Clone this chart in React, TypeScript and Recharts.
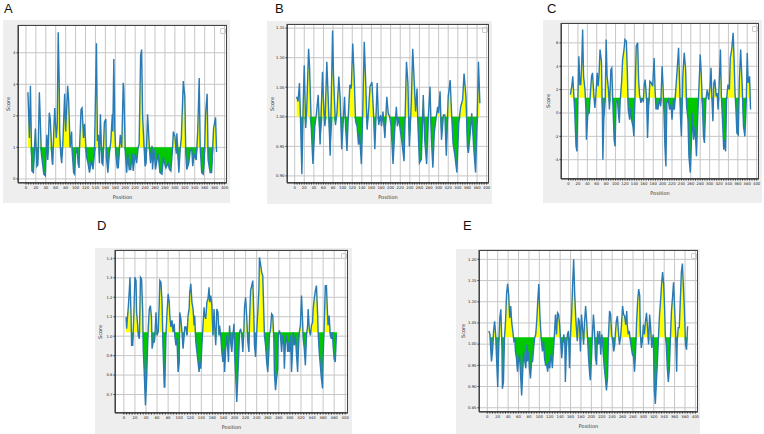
import { ComposedChart, Area, Line, XAxis, YAxis, CartesianGrid } from 'recharts'

type Pt = [number, number]

const FONT = '"DejaVu Sans", sans-serif'
const YELLOW = '#ffff00'
const GREEN = '#00c800'
const BLUE = '#2a7ab5'

const X_DOMAIN: [number, number] = [-16, 405]
const xMajorTicks = [0, 20, 40, 60, 80, 100, 120, 140, 160, 180, 200, 220, 240, 260, 280, 300, 320, 340, 360, 380, 400]
const xMinorTicks = Array.from({ length: 81 }, (_, i) => i * 5)

const yTicksA = [0, 1, 2, 3, 4]
const yTicksB = [0.9, 0.95, 1.0, 1.05, 1.1, 1.15]
const yTicksC = [-4, -2, 0, 2, 4, 6]
const yTicksD = [0.7, 0.8, 0.9, 1.0, 1.1, 1.2, 1.3, 1.4]
const yTicksE = [0.85, 0.9, 0.95, 1.0, 1.05, 1.1, 1.15, 1.2]

// [position, score]
const scoreA: Pt[] = [
    [4, 2.75], [7, 1.3], [9, 2.95], [12, 0.25], [15, 0.2], [19, 1.6], [22, 0.4], [24, 0.45], [27, 2.75], [28, 2.3],
    [31, 0.8], [36, 0.15], [39, 0.1], [42, 1.4], [44, 0.6], [47, 2.1], [49, 1.9], [53, 0.5], [54, 0.45], [56, 1.5],
    [58, 2.25], [61, 1.3], [63, 1.7], [65, 4.65], [67, 3.1], [68, 1.5], [70, 0.8], [72, 0.5], [74, 1.0], [78, 2.7],
    [80, 1.5], [84, 2.95], [86, 2.5], [89, 1.0], [92, 1.5], [93, 0.9], [96, 0.2], [98, 0.15], [100, 0.8], [103, 1.0],
    [105, 0.5], [107, 0.35], [108, 1.0], [111, 2.2], [113, 2.25], [116, 1.3], [118, 1.75], [122, 0.7], [125, 0.5], [128, 0.2],
    [132, 0.6], [135, 0.3], [138, 0.8], [142, 4.3], [144, 1.2], [146, 1.4], [148, 0.5], [150, 2.05], [153, 0.5], [155, 0.45],
    [158, 1.8], [161, 1.9], [162, 0.7], [165, 0.2], [168, 0.8], [171, 1.2], [174, 2.05], [175, 1.5], [177, 3.8], [179, 1.6],
    [181, 0.8], [184, 0.35], [186, 0.35], [190, 1.4], [193, 1.0], [196, 3.05], [197, 2.9], [200, 0.9], [203, 0.2], [205, 0.8],
    [208, 0.3], [211, 0.3], [214, 0.8], [216, 0.25], [220, 0.8], [223, 0.5], [226, 1.0], [228, 1.1], [231, 3.9], [233, 4.1],
    [235, 2.0], [238, 1.0], [240, 0.4], [242, 0.5], [245, 2.05], [249, 0.9], [251, 0.5], [254, 1.05], [255, 0.3], [258, 0.95],
    [261, 0.3], [264, 0.6], [266, 0.8], [270, 0.2], [274, 0.15], [277, 0.7], [279, 0.5], [282, 0.35], [286, 0.5], [289, 0.3],
    [292, 0.25], [295, 0.9], [297, 1.5], [300, 1.35], [303, 0.8], [304, 1.45], [308, 0.2], [311, 1.0], [313, 1.3], [317, 3.1],
    [320, 2.6], [322, 0.8], [324, 0.3], [328, 0.5], [331, 0.9], [334, 0.95], [336, 0.4], [339, 0.8], [343, 0.6], [346, 1.5],
    [349, 3.2], [351, 1.0], [354, 0.2], [357, 0.15], [359, 0.5], [362, 2.1], [365, 2.7], [367, 0.6], [371, 0.2], [374, 0.2],
    [378, 1.6], [382, 1.95], [384, 0.85],
]

const scoreB: Pt[] = [
    [4, 1.034], [7, 1.026], [10, 1.057], [12, 1.0], [15, 0.903], [18, 1.03], [20, 1.087], [23, 0.981], [25, 1.012], [29, 1.115],
    [31, 1.085], [35, 0.973], [38, 0.92], [42, 0.984], [45, 1.003], [49, 1.037], [53, 0.953], [58, 1.076], [61, 1.006], [63, 0.984],
    [67, 1.093], [70, 1.029], [74, 0.934], [79, 1.146], [81, 1.068], [85, 0.986], [88, 1.006], [92, 1.068], [95, 1.029], [98, 0.945],
    [101, 0.99], [104, 1.034], [106, 0.984], [109, 0.942], [112, 1.006], [115, 1.054], [118, 1.048], [121, 1.124], [124, 1.068], [127, 0.992],
    [130, 0.984], [133, 0.953], [135, 0.973], [139, 0.92], [142, 1.012], [145, 1.127], [148, 1.059], [151, 0.978], [154, 1.012], [157, 1.051],
    [161, 1.059], [164, 1.012], [167, 0.945], [170, 1.012], [172, 1.057], [175, 0.986], [179, 1.003], [181, 0.984], [184, 1.009], [188, 0.964],
    [192, 1.034], [195, 1.006], [198, 1.0], [201, 0.984], [205, 0.92], [209, 0.984], [212, 1.017], [214, 0.984], [217, 0.998], [220, 0.978],
    [223, 0.961], [228, 0.925], [230, 0.995], [233, 1.093], [236, 1.057], [239, 0.95], [243, 1.023], [246, 1.115], [249, 1.062], [252, 1.009],
    [255, 1.048], [257, 0.984], [260, 0.922], [264, 0.928], [268, 1.037], [271, 0.961], [275, 0.92], [279, 1.006], [282, 1.051], [285, 0.961],
    [288, 0.914], [291, 0.973], [295, 1.0], [298, 1.017], [300, 1.006], [303, 1.043], [306, 0.961], [310, 1.003], [313, 1.003], [316, 0.934],
    [320, 1.034], [324, 1.062], [327, 1.006], [330, 0.956], [334, 0.934], [338, 0.906], [342, 0.99], [346, 1.017], [350, 1.029], [353, 1.073],
    [357, 1.034], [360, 0.95], [362, 0.939], [366, 0.973], [369, 1.006], [373, 0.95], [377, 0.906], [380, 0.984], [383, 1.093], [386, 1.023],
]

const scoreC: Pt[] = [
    [4, 1.57], [7, 2.29], [9, 3.14], [11, 1.71], [13, 0.29], [16, -2.86], [18, -3.29], [20, 1.43], [22, 4.86], [24, 2.43],
    [26, 2.43], [28, 4.14], [30, 7.15], [32, 3.14], [35, 2.0], [37, 0.29], [38, -2.29], [41, -0.14], [44, 0.0], [46, 1.43],
    [49, 3.14], [51, 3.43], [54, 1.43], [56, 0.43], [58, 1.43], [61, 3.43], [63, 2.29], [65, 3.43], [67, 5.43], [70, 4.43],
    [72, -0.29], [73, -4.0], [75, -0.57], [78, 1.14], [80, 6.29], [82, 3.14], [85, 2.0], [87, 0.29], [90, 3.71], [92, 3.86],
    [94, 1.14], [97, -2.29], [99, -2.86], [101, 0.86], [104, 1.14], [106, 0.0], [108, -0.86], [110, 1.14], [113, 2.71], [115, 4.57],
    [118, 5.43], [120, 6.29], [123, 6.14], [125, 3.57], [127, 0.29], [130, -0.57], [132, 0.43], [134, -0.57], [137, -1.14], [139, -2.0],
    [142, 2.57], [144, 5.71], [147, 6.0], [149, 2.86], [151, 1.57], [154, 0.86], [156, 1.14], [159, 1.0], [161, 2.43], [163, 2.86],
    [166, 1.14], [168, -2.14], [170, 0.29], [173, 2.71], [176, 2.57], [179, 2.29], [182, 4.71], [184, 2.0], [186, 0.29], [188, 0.71],
    [190, 0.29], [193, 1.14], [196, 0.57], [199, 4.0], [201, 2.29], [203, 0.0], [205, -2.86], [207, -4.57], [209, 0.86], [212, 1.14],
    [215, 0.29], [218, 0.71], [220, -0.57], [223, 1.14], [225, 0.29], [228, 2.0], [231, 3.71], [234, 5.57], [236, 2.86], [238, -0.29],
    [240, -2.0], [243, 3.14], [246, 5.14], [249, 3.71], [251, 0.57], [254, -0.57], [256, -3.71], [259, -5.1], [261, -2.86], [263, 0.0],
    [266, -2.29], [269, -1.14], [272, -3.71], [275, 0.0], [278, 2.86], [280, 5.0], [282, 3.57], [285, 0.29], [287, -2.0], [289, -2.57],
    [292, 1.14], [295, 2.0], [298, 1.14], [301, 2.29], [303, 3.86], [305, 1.14], [307, -0.71], [309, 2.57], [311, 2.86], [314, 1.43],
    [316, 1.71], [318, 0.29], [321, 3.14], [323, 5.43], [325, 1.43], [328, -1.14], [330, -3.14], [332, -2.29], [334, -3.29], [336, 1.14],
    [339, 2.43], [342, 2.0], [344, 4.71], [347, 5.43], [350, 6.86], [352, 4.57], [354, 1.71], [356, 0.29], [358, -1.71], [361, -1.86],
    [363, 2.57], [366, 5.43], [369, 2.57], [372, -1.14], [375, -2.0], [378, 1.14], [380, 5.14], [382, 2.57], [385, 3.14], [387, 0.29],
]

const scoreD: Pt[] = [
    [4, 1.098], [5, 1.038], [8, 1.149], [10, 1.243], [11, 1.303], [13, 1.106], [14, 0.953], [16, 0.953], [18, 1.106], [20, 1.303],
    [22, 1.286], [23, 1.123], [25, 1.055], [26, 1.004], [28, 0.987], [30, 1.303], [32, 1.294], [34, 1.132], [35, 0.936], [37, 0.799],
    [39, 0.645], [41, 0.765], [43, 0.953], [44, 1.038], [46, 1.14], [48, 1.157], [50, 1.089], [51, 0.936], [53, 0.97], [55, 0.97],
    [56, 0.995], [58, 1.123], [60, 1.004], [62, 1.021], [64, 1.175], [65, 1.286], [67, 1.277], [69, 1.175], [71, 0.919], [73, 0.739],
    [74, 0.739], [76, 1.004], [78, 1.123], [80, 1.217], [82, 1.175], [83, 1.106], [85, 1.047], [87, 1.081], [89, 1.021], [91, 1.064],
    [92, 1.004], [94, 0.953], [96, 0.987], [98, 0.816], [100, 0.867], [101, 1.123], [103, 1.089], [105, 1.021], [107, 0.936], [109, 1.004],
    [110, 1.047], [112, 1.047], [114, 1.004], [116, 1.106], [118, 1.14], [119, 1.226], [121, 1.269], [123, 1.175], [125, 1.14], [127, 1.055],
    [128, 1.106], [130, 0.97], [132, 0.919], [134, 0.867], [136, 0.816], [137, 0.867], [139, 0.833], [141, 0.953], [143, 1.055], [145, 1.149],
    [146, 1.106], [148, 1.089], [150, 1.175], [152, 1.192], [154, 1.251], [155, 1.175], [157, 1.209], [159, 1.157], [161, 1.004], [163, 1.14],
    [164, 1.055], [166, 0.953], [168, 1.14], [170, 1.123], [172, 1.004], [173, 1.055], [175, 1.004], [177, 0.919], [179, 0.867], [181, 0.936],
    [182, 0.816], [184, 0.936], [186, 1.004], [188, 0.919], [189, 0.867], [191, 1.055], [193, 0.97], [195, 0.919], [197, 1.004], [199, 1.064],
    [200, 0.919], [202, 0.799], [204, 0.662], [206, 0.799], [208, 0.936], [209, 1.021], [211, 1.038], [213, 1.004], [215, 0.919], [217, 1.038],
    [218, 1.149], [220, 1.2], [222, 1.098], [224, 0.97], [226, 0.919], [227, 1.072], [229, 1.234], [231, 1.26], [233, 1.286], [235, 1.089],
    [236, 0.953], [238, 0.893], [240, 1.021], [242, 1.123], [244, 1.243], [245, 1.405], [247, 1.371], [249, 1.328], [251, 1.311], [253, 1.106],
    [254, 1.004], [256, 0.953], [258, 0.867], [260, 0.816], [262, 0.919], [263, 1.004], [265, 1.038], [267, 1.115], [269, 1.106], [271, 0.987],
    [272, 0.816], [274, 0.722], [276, 0.782], [278, 0.833], [279, 1.004], [281, 1.03], [283, 1.004], [285, 0.919], [287, 1.004], [289, 0.953],
    [290, 0.833], [292, 0.97], [294, 1.004], [296, 0.919], [297, 0.97], [299, 0.919], [301, 1.004], [303, 0.816], [305, 0.936], [306, 1.021],
    [308, 0.953], [310, 1.004], [312, 0.902], [314, 0.816], [315, 0.902], [317, 1.021], [319, 1.055], [321, 1.209], [323, 1.072], [324, 0.987],
    [326, 0.936], [328, 0.85], [330, 1.004], [332, 1.055], [333, 1.14], [335, 1.038], [337, 1.004], [339, 1.055], [341, 1.072], [342, 1.14],
    [344, 1.192], [346, 1.234], [348, 1.26], [350, 1.123], [351, 1.021], [353, 0.919], [355, 0.85], [357, 0.782], [359, 0.731], [360, 0.884],
    [362, 1.055], [364, 1.26], [366, 1.26], [368, 1.115], [369, 1.055], [371, 1.106], [373, 1.004], [375, 0.987], [377, 1.021], [378, 0.953],
    [380, 0.884], [382, 0.867], [384, 1.004], [385, 1.004],
]

const scoreE: Pt[] = [
    [3, 1.031], [5, 1.023], [6, 0.999], [8, 0.959], [10, 0.983], [12, 1.031], [14, 1.054], [16, 1.023], [18, 0.959], [20, 0.899],
    [22, 0.999], [24, 1.062], [26, 1.082], [28, 0.999], [29, 0.895], [31, 0.911], [33, 1.015], [35, 1.054], [37, 1.118], [39, 1.142],
    [41, 1.118], [43, 1.062], [45, 1.09], [47, 1.05], [49, 1.031], [51, 1.007], [53, 1.011], [54, 0.983], [56, 0.967], [58, 0.935],
    [60, 0.959], [62, 0.975], [64, 0.927], [66, 0.879], [68, 0.935], [70, 0.983], [72, 0.959], [74, 0.943], [76, 0.999], [77, 0.959],
    [79, 0.983], [81, 0.943], [83, 0.919], [85, 0.959], [87, 0.959], [89, 0.991], [91, 1.015], [93, 1.023], [95, 1.054], [97, 1.102],
    [99, 1.142], [101, 1.07], [102, 1.046], [104, 1.007], [106, 0.983], [108, 1.007], [110, 0.967], [112, 0.951], [114, 0.951], [116, 0.935],
    [118, 0.959], [120, 0.943], [122, 0.975], [124, 0.959], [125, 0.943], [127, 0.983], [129, 1.023], [131, 1.07], [133, 1.023], [135, 1.074],
    [137, 1.07], [139, 1.046], [141, 1.007], [143, 0.967], [145, 0.999], [147, 1.023], [149, 0.999], [150, 0.911], [152, 0.991], [154, 1.023],
    [156, 1.031], [158, 0.943], [160, 1.023], [162, 1.07], [164, 1.142], [166, 1.2], [168, 1.118], [170, 1.062], [172, 1.023], [173, 1.007],
    [175, 1.062], [177, 1.054], [179, 0.983], [181, 1.07], [183, 1.039], [185, 0.999], [187, 1.054], [189, 1.09], [191, 1.054], [193, 1.007],
    [195, 0.959], [197, 0.927], [198, 0.915], [200, 0.959], [202, 1.023], [204, 1.07], [206, 1.031], [208, 0.967], [210, 0.951], [212, 1.031],
    [214, 0.999], [216, 1.031], [218, 0.975], [220, 1.023], [221, 1.015], [223, 0.975], [225, 0.943], [227, 0.919], [229, 0.891], [231, 0.919],
    [233, 1.023], [235, 1.078], [237, 1.07], [239, 1.023], [241, 1.007], [243, 0.983], [245, 0.999], [246, 1.023], [248, 1.054], [250, 1.066],
    [252, 1.031], [254, 0.999], [256, 1.015], [258, 1.046], [260, 1.09], [262, 1.07], [264, 1.066], [266, 1.046], [268, 1.078], [269, 1.046],
    [271, 1.023], [273, 1.031], [275, 1.007], [277, 0.991], [279, 0.975], [281, 0.971], [283, 0.935], [285, 0.983], [287, 1.054], [289, 1.102],
    [291, 1.13], [293, 1.114], [294, 1.031], [296, 0.991], [298, 1.007], [300, 1.046], [302, 1.023], [304, 1.054], [306, 1.074], [308, 1.039],
    [310, 0.999], [312, 1.07], [314, 1.039], [316, 0.991], [317, 1.003], [319, 1.023], [321, 0.895], [323, 0.859], [325, 0.911], [327, 0.959],
    [329, 1.015], [331, 1.07], [333, 1.102], [335, 1.142], [337, 1.17], [339, 1.142], [341, 1.078], [342, 1.023], [344, 0.999], [346, 0.943],
    [348, 0.911], [350, 0.943], [352, 1.015], [354, 1.078], [356, 1.11], [358, 1.146], [360, 1.086], [362, 1.023], [364, 0.935], [365, 1.007],
    [367, 1.039], [369, 1.039], [371, 1.102], [373, 1.17], [375, 1.19], [377, 1.134], [379, 1.078], [381, 0.999], [383, 0.987], [385, 1.042],
]

interface PanelConfig {
    title: string
    titleX: number
    titleY: number
    data: Pt[]
    threshold: number
    yDomain: [number, number]
    yTicks: number[]
    yFmt: (v: number) => string
    box: { x: number, y: number, w: number, h: number }
    plot: { l: number, t: number, r: number, b: number }
    scoreDx: number
}

const panels: PanelConfig[] = [
    {
        title: 'A', titleX: 4, titleY: 2, data: scoreA, threshold: 1.0,
        yDomain: [-0.13, 4.88], yTicks: yTicksA, yFmt: v => String(v),
        box: { x: 3, y: 20, w: 227, h: 183 }, plot: { l: 18, t: 25, r: 227, b: 183 }, scoreDx: -10
    },
    {
        title: 'B', titleX: 275, titleY: 2, data: scoreB, threshold: 1.0,
        yDomain: [0.888, 1.157], yTicks: yTicksB, yFmt: v => v.toFixed(2),
        box: { x: 267, y: 21, w: 225, h: 183 }, plot: { l: 287, t: 24, r: 489, b: 183 }, scoreDx: -15
    },
    {
        title: 'C', titleX: 547, titleY: 2, data: scoreC, threshold: 1.3,
        yDomain: [-5.65, 7.7], yTicks: yTicksC, yFmt: v => String(v),
        box: { x: 543, y: 20, w: 219, h: 183 }, plot: { l: 561, t: 23, r: 759, b: 179 }, scoreDx: -13.5
    },
    {
        title: 'D', titleX: 97, titleY: 219, data: scoreD, threshold: 1.02,
        yDomain: [0.605, 1.443], yTicks: yTicksD, yFmt: v => v.toFixed(1),
        box: { x: 95, y: 248, w: 257, h: 186 }, plot: { l: 115, t: 250, r: 348, b: 413 }, scoreDx: -15.5
    },
    {
        title: 'E', titleX: 463, titleY: 219, data: scoreE, threshold: 1.016,
        yDomain: [0.84, 1.222], yTicks: yTicksE, yFmt: v => v.toFixed(2),
        box: { x: 456, y: 249, w: 244, h: 185 }, plot: { l: 479, t: 250, r: 698, b: 412 }, scoreDx: -16.5
    },
]

const tickStyle = { fontSize: 3.8, fill: '#222', fontFamily: FONT }

function ScalePanel({ cfg }: { cfg: PanelConfig }) {
    const { box, plot, threshold } = cfg
    const rows = cfg.data.map(([pos, v]) => ({
        pos,
        v,
        hi: Math.max(v, threshold),
        lo: Math.min(v, threshold)
    }))

    const margin = { top: plot.t - box.y, right: box.x + box.w - plot.r, left: 0, bottom: 0 }
    const yAxisWidth = plot.l - box.x
    const xAxisHeight = box.y + box.h - plot.b
    const plotW = plot.r - plot.l
    const plotH = plot.b - plot.t

    return (
        <div style={{ position: 'absolute', left: box.x, top: box.y, width: box.w, height: box.h, background: '#eeeeee' }}>
            <ComposedChart width={box.w} height={box.h} data={rows} margin={margin}>
                <CartesianGrid fill="#ffffff" stroke="#c6c6c6" strokeWidth={1} vertical={false} />
                {/* vertical grid at the labelled x ticks */}
                <CartesianGrid
                    horizontal={false}
                    stroke="#c6c6c6"
                    strokeWidth={1}
                    syncWithTicks={false}
                    verticalValues={xMajorTicks}
                />
                <XAxis
                    type="number"
                    dataKey="pos"
                    domain={X_DOMAIN}
                    ticks={xMinorTicks}
                    interval={0}
                    allowDataOverflow
                    height={xAxisHeight}
                    tickFormatter={(v: number) => (v % 20 === 0 ? String(v) : '')}
                    tick={tickStyle}
                    tickSize={1.5}
                    tickMargin={2.3}
                    stroke="#333"
                />
                <YAxis
                    type="number"
                    domain={cfg.yDomain}
                    ticks={cfg.yTicks}
                    interval={0}
                    allowDataOverflow
                    width={yAxisWidth}
                    tickFormatter={cfg.yFmt}
                    tick={tickStyle}
                    tickSize={1.5}
                    tickMargin={1}
                    stroke="#333"
                />
                <Area
                    type="linear"
                    dataKey="hi"
                    baseValue={threshold}
                    stroke="none"
                    fill={YELLOW}
                    fillOpacity={1}
                    dot={false}
                    activeDot={false}
                    isAnimationActive={false}
                />
                <Area
                    type="linear"
                    dataKey="lo"
                    baseValue={threshold}
                    stroke="none"
                    fill={GREEN}
                    fillOpacity={1}
                    dot={false}
                    activeDot={false}
                    isAnimationActive={false}
                />
                <Line
                    type="linear"
                    dataKey="v"
                    stroke={BLUE}
                    strokeWidth={1.4}
                    dot={false}
                    activeDot={false}
                    isAnimationActive={false}
                />
            </ComposedChart>

            {/* axes frame */}
            <div style={{
                position: 'absolute', left: plot.l - box.x, top: plot.t - box.y, width: plotW, height: plotH,
                border: '0.8px solid #444', boxSizing: 'border-box', pointerEvents: 'none'
            }} />
            {/* empty legend marker */}
            <div style={{
                position: 'absolute', left: plot.r - box.x - 7, top: plot.t - box.y + 3, width: 4, height: 4,
                border: '0.5px solid #ccc', borderRadius: 1, pointerEvents: 'none'
            }} />
            <div style={{
                position: 'absolute', left: plot.l - box.x + plotW / 2, top: plot.b - box.y + 14,
                transform: 'translate(-50%, -50%)', fontSize: 5, lineHeight: 1, fontFamily: FONT,
                color: '#333', whiteSpace: 'nowrap'
            }}>Position</div>
            <div style={{
                position: 'absolute', left: plot.l - box.x + cfg.scoreDx, top: plot.t - box.y + plotH / 2,
                transform: 'translate(-50%, -50%) rotate(-90deg)', fontSize: 5, lineHeight: 1, fontFamily: FONT,
                color: '#333', whiteSpace: 'nowrap'
            }}>Score</div>
        </div>
    )
}

export default function App() {
    return (
        <div style={{ position: 'absolute', left: 0, top: 0, width: 764, height: 434, background: '#ffffff', overflow: 'hidden' }}>
            {panels.map(p => (
                <div key={p.title}>
                    <div style={{
                        position: 'absolute', left: p.titleX, top: p.titleY, fontSize: 13, lineHeight: 1,
                        fontFamily: '"Liberation Sans", Arial, sans-serif', color: '#111'
                    }}>{p.title}</div>
                    <ScalePanel cfg={p} />
                </div>
            ))}
        </div>
    )
}
